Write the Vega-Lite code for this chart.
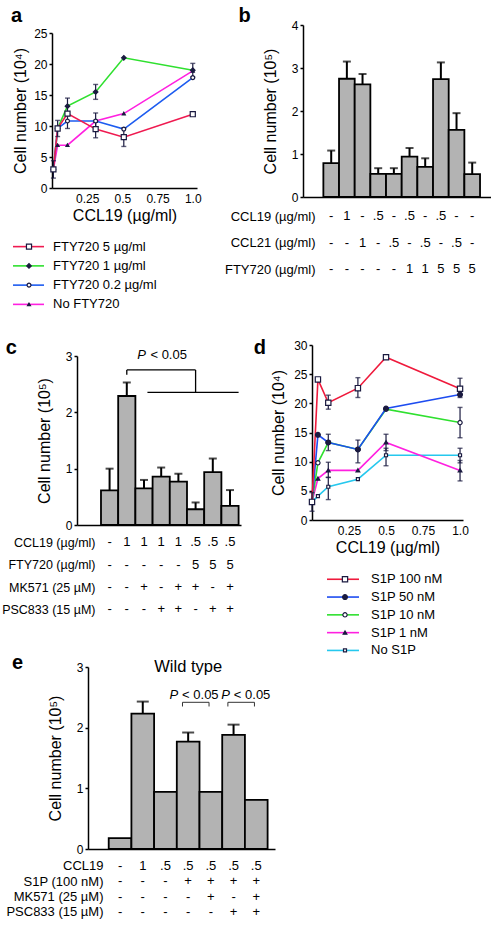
{
"$schema": "https://vega.github.io/schema/vega-lite/v6.json",
"padding": 0,
"background": "white",
"spacing": -5,
"resolve": {"scale": {"color": "independent", "shape": "independent", "fill": "independent", "size": "independent"}},
"config": {
  "view": {"stroke": null},
  "font": "Liberation Sans",
  "axis": {"domainColor": "black", "domainWidth": 1.5, "tickColor": "black", "tickWidth": 1.5, "tickSize": 3, "labelFontSize": 12, "labelColor": "black", "labelFont": "Liberation Sans", "labelPadding": 2, "labelOverlap": false, "titleFontSize": 16, "titleFontWeight": "normal", "titleColor": "black", "titleFont": "Liberation Sans", "grid": false},
  "title": {"fontSize": 20, "fontWeight": "bold", "color": "black", "font": "Liberation Sans", "anchor": "start"},
  "text": {"font": "Liberation Sans", "color": "black"}
},
"datasets": {
  "aLine": [
    {"series": "No FTY720", "ccl19": 0.01, "cells": 3.0}, {"series": "No FTY720", "ccl19": 0.04, "cells": 6.9}, {"series": "No FTY720", "ccl19": 0.11, "cells": 6.9}, {"series": "No FTY720", "ccl19": 0.31, "cells": 10.8}, {"series": "No FTY720", "ccl19": 0.51, "cells": 12.0}, {"series": "No FTY720", "ccl19": 1.0, "cells": 18.9},
    {"series": "FTY720 1 µg/ml", "ccl19": 0.01, "cells": 3.0}, {"series": "FTY720 1 µg/ml", "ccl19": 0.04, "cells": 9.6}, {"series": "FTY720 1 µg/ml", "ccl19": 0.11, "cells": 13.2}, {"series": "FTY720 1 µg/ml", "ccl19": 0.31, "cells": 15.5}, {"series": "FTY720 1 µg/ml", "ccl19": 0.51, "cells": 21.0}, {"series": "FTY720 1 µg/ml", "ccl19": 1.0, "cells": 19.0},
    {"series": "FTY720 0.2 µg/ml", "ccl19": 0.01, "cells": 3.0}, {"series": "FTY720 0.2 µg/ml", "ccl19": 0.04, "cells": 9.6}, {"series": "FTY720 0.2 µg/ml", "ccl19": 0.11, "cells": 10.8}, {"series": "FTY720 0.2 µg/ml", "ccl19": 0.31, "cells": 10.8}, {"series": "FTY720 0.2 µg/ml", "ccl19": 0.51, "cells": 9.5}, {"series": "FTY720 0.2 µg/ml", "ccl19": 1.0, "cells": 17.8},
    {"series": "FTY720 5 µg/ml", "ccl19": 0.01, "cells": 3.0}, {"series": "FTY720 5 µg/ml", "ccl19": 0.04, "cells": 9.6}, {"series": "FTY720 5 µg/ml", "ccl19": 0.11, "cells": 12.0}, {"series": "FTY720 5 µg/ml", "ccl19": 0.31, "cells": 9.5}, {"series": "FTY720 5 µg/ml", "ccl19": 0.51, "cells": 8.2}, {"series": "FTY720 5 µg/ml", "ccl19": 1.0, "cells": 11.9}
  ],
  "aErr": [
    {"series": "FTY720 5 µg/ml", "ccl19": 0.01, "lo": 1.6, "hi": 4.4},
    {"series": "FTY720 5 µg/ml", "ccl19": 0.04, "lo": 8.3, "hi": 10.9},
    {"series": "FTY720 1 µg/ml", "ccl19": 0.11, "lo": 11.9, "hi": 14.5},
    {"series": "FTY720 0.2 µg/ml", "ccl19": 0.11, "lo": 9.6, "hi": 12.0},
    {"series": "FTY720 1 µg/ml", "ccl19": 0.31, "lo": 14.3, "hi": 16.7},
    {"series": "FTY720 5 µg/ml", "ccl19": 0.31, "lo": 8.1, "hi": 10.9},
    {"series": "FTY720 0.2 µg/ml", "ccl19": 0.31, "lo": 9.5, "hi": 12.1},
    {"series": "FTY720 5 µg/ml", "ccl19": 0.51, "lo": 6.7, "hi": 9.7},
    {"series": "FTY720 1 µg/ml", "ccl19": 1.0, "lo": 17.9, "hi": 20.1}
  ],
  "aSer": [{"series": "FTY720 5 µg/ml"}, {"series": "FTY720 1 µg/ml"}, {"series": "FTY720 0.2 µg/ml"}, {"series": "No FTY720"}],
  "bBar": [
    {"bar": "1", "cells": 0.79, "hi": 1.08}, {"bar": "2", "cells": 2.75, "hi": 3.15}, {"bar": "3", "cells": 2.62, "hi": 2.86}, {"bar": "4", "cells": 0.54, "hi": 0.67}, {"bar": "5", "cells": 0.54, "hi": 0.67},
    {"bar": "6", "cells": 0.94, "hi": 1.14}, {"bar": "7", "cells": 0.70, "hi": 0.90}, {"bar": "8", "cells": 2.74, "hi": 3.13}, {"bar": "9", "cells": 1.56, "hi": 1.95}, {"bar": "10", "cells": 0.53, "hi": 0.80}
  ],
  "bTab": [
    {"bar": "1", "row": "CCL19 (µg/ml)", "v": "-"}, {"bar": "2", "row": "CCL19 (µg/ml)", "v": "1"}, {"bar": "3", "row": "CCL19 (µg/ml)", "v": "-"}, {"bar": "4", "row": "CCL19 (µg/ml)", "v": ".5"}, {"bar": "5", "row": "CCL19 (µg/ml)", "v": "-"}, {"bar": "6", "row": "CCL19 (µg/ml)", "v": ".5"}, {"bar": "7", "row": "CCL19 (µg/ml)", "v": "-"}, {"bar": "8", "row": "CCL19 (µg/ml)", "v": ".5"}, {"bar": "9", "row": "CCL19 (µg/ml)", "v": "-"}, {"bar": "10", "row": "CCL19 (µg/ml)", "v": "-"},
    {"bar": "1", "row": "CCL21 (µg/ml)", "v": "-"}, {"bar": "2", "row": "CCL21 (µg/ml)", "v": "-"}, {"bar": "3", "row": "CCL21 (µg/ml)", "v": "1"}, {"bar": "4", "row": "CCL21 (µg/ml)", "v": "-"}, {"bar": "5", "row": "CCL21 (µg/ml)", "v": ".5"}, {"bar": "6", "row": "CCL21 (µg/ml)", "v": "-"}, {"bar": "7", "row": "CCL21 (µg/ml)", "v": ".5"}, {"bar": "8", "row": "CCL21 (µg/ml)", "v": "-"}, {"bar": "9", "row": "CCL21 (µg/ml)", "v": ".5"}, {"bar": "10", "row": "CCL21 (µg/ml)", "v": "-"},
    {"bar": "1", "row": "FTY720 (µg/ml)", "v": "-"}, {"bar": "2", "row": "FTY720 (µg/ml)", "v": "-"}, {"bar": "3", "row": "FTY720 (µg/ml)", "v": "-"}, {"bar": "4", "row": "FTY720 (µg/ml)", "v": "-"}, {"bar": "5", "row": "FTY720 (µg/ml)", "v": "-"}, {"bar": "6", "row": "FTY720 (µg/ml)", "v": "1"}, {"bar": "7", "row": "FTY720 (µg/ml)", "v": "1"}, {"bar": "8", "row": "FTY720 (µg/ml)", "v": "5"}, {"bar": "9", "row": "FTY720 (µg/ml)", "v": "5"}, {"bar": "10", "row": "FTY720 (µg/ml)", "v": "5"}
  ],
  "cBar": [
    {"bar": "1", "cells": 0.615, "hi": 1.0}, {"bar": "2", "cells": 2.29, "hi": 2.53}, {"bar": "3", "cells": 0.65, "hi": 0.8}, {"bar": "4", "cells": 0.86, "hi": 1.02},
    {"bar": "5", "cells": 0.77, "hi": 0.91}, {"bar": "6", "cells": 0.28, "hi": 0.4}, {"bar": "7", "cells": 0.94, "hi": 1.18}, {"bar": "8", "cells": 0.34, "hi": 0.62}
  ],
  "cTab": [
    {"bar": "1", "row": "CCL19 (µg/ml)", "v": "-"}, {"bar": "2", "row": "CCL19 (µg/ml)", "v": "1"}, {"bar": "3", "row": "CCL19 (µg/ml)", "v": "1"}, {"bar": "4", "row": "CCL19 (µg/ml)", "v": "1"}, {"bar": "5", "row": "CCL19 (µg/ml)", "v": "1"}, {"bar": "6", "row": "CCL19 (µg/ml)", "v": ".5"}, {"bar": "7", "row": "CCL19 (µg/ml)", "v": ".5"}, {"bar": "8", "row": "CCL19 (µg/ml)", "v": ".5"},
    {"bar": "1", "row": "FTY720 (µg/ml)", "v": "-"}, {"bar": "2", "row": "FTY720 (µg/ml)", "v": "-"}, {"bar": "3", "row": "FTY720 (µg/ml)", "v": "-"}, {"bar": "4", "row": "FTY720 (µg/ml)", "v": "-"}, {"bar": "5", "row": "FTY720 (µg/ml)", "v": "-"}, {"bar": "6", "row": "FTY720 (µg/ml)", "v": "5"}, {"bar": "7", "row": "FTY720 (µg/ml)", "v": "5"}, {"bar": "8", "row": "FTY720 (µg/ml)", "v": "5"},
    {"bar": "1", "row": "MK571 (25 µM)", "v": "-"}, {"bar": "2", "row": "MK571 (25 µM)", "v": "-"}, {"bar": "3", "row": "MK571 (25 µM)", "v": "+"}, {"bar": "4", "row": "MK571 (25 µM)", "v": "-"}, {"bar": "5", "row": "MK571 (25 µM)", "v": "+"}, {"bar": "6", "row": "MK571 (25 µM)", "v": "+"}, {"bar": "7", "row": "MK571 (25 µM)", "v": "-"}, {"bar": "8", "row": "MK571 (25 µM)", "v": "+"},
    {"bar": "1", "row": "PSC833 (15 µM)", "v": "-"}, {"bar": "2", "row": "PSC833 (15 µM)", "v": "-"}, {"bar": "3", "row": "PSC833 (15 µM)", "v": "-"}, {"bar": "4", "row": "PSC833 (15 µM)", "v": "+"}, {"bar": "5", "row": "PSC833 (15 µM)", "v": "+"}, {"bar": "6", "row": "PSC833 (15 µM)", "v": "-"}, {"bar": "7", "row": "PSC833 (15 µM)", "v": "+"}, {"bar": "8", "row": "PSC833 (15 µM)", "v": "+"}
  ],
  "dLine": [
    {"series": "No S1P", "ccl19": 0, "cells": 3.1}, {"series": "No S1P", "ccl19": 0.04, "cells": 4.1}, {"series": "No S1P", "ccl19": 0.11, "cells": 5.7}, {"series": "No S1P", "ccl19": 0.31, "cells": 7.0}, {"series": "No S1P", "ccl19": 0.5, "cells": 11.1}, {"series": "No S1P", "ccl19": 1.0, "cells": 11.1},
    {"series": "S1P 1 nM", "ccl19": 0, "cells": 3.1}, {"series": "S1P 1 nM", "ccl19": 0.04, "cells": 7.1}, {"series": "S1P 1 nM", "ccl19": 0.11, "cells": 8.5}, {"series": "S1P 1 nM", "ccl19": 0.31, "cells": 8.5}, {"series": "S1P 1 nM", "ccl19": 0.5, "cells": 13.3}, {"series": "S1P 1 nM", "ccl19": 1.0, "cells": 8.5},
    {"series": "S1P 10 nM", "ccl19": 0, "cells": 3.1}, {"series": "S1P 10 nM", "ccl19": 0.04, "cells": 9.8}, {"series": "S1P 10 nM", "ccl19": 0.11, "cells": 13.3}, {"series": "S1P 10 nM", "ccl19": 0.31, "cells": 12.1}, {"series": "S1P 10 nM", "ccl19": 0.5, "cells": 19.0}, {"series": "S1P 10 nM", "ccl19": 1.0, "cells": 16.7},
    {"series": "S1P 50 nM", "ccl19": 0, "cells": 3.1}, {"series": "S1P 50 nM", "ccl19": 0.04, "cells": 14.6}, {"series": "S1P 50 nM", "ccl19": 0.11, "cells": 13.3}, {"series": "S1P 50 nM", "ccl19": 0.31, "cells": 12.1}, {"series": "S1P 50 nM", "ccl19": 0.5, "cells": 19.1}, {"series": "S1P 50 nM", "ccl19": 1.0, "cells": 21.5},
    {"series": "S1P 100 nM", "ccl19": 0, "cells": 3.1}, {"series": "S1P 100 nM", "ccl19": 0.04, "cells": 24.1}, {"series": "S1P 100 nM", "ccl19": 0.11, "cells": 20.1}, {"series": "S1P 100 nM", "ccl19": 0.31, "cells": 22.6}, {"series": "S1P 100 nM", "ccl19": 0.5, "cells": 27.9}, {"series": "S1P 100 nM", "ccl19": 1.0, "cells": 22.5}
  ],
  "dErr": [
    {"series": "S1P 100 nM", "ccl19": 0, "lo": 1.5, "hi": 4.7},
    {"series": "S1P 100 nM", "ccl19": 0.11, "lo": 19.0, "hi": 21.4},
    {"series": "S1P 100 nM", "ccl19": 0.31, "lo": 21.0, "hi": 24.4},
    {"series": "S1P 100 nM", "ccl19": 1.0, "lo": 21.0, "hi": 24.3},
    {"series": "S1P 50 nM", "ccl19": 0.11, "lo": 11.9, "hi": 14.7},
    {"series": "S1P 50 nM", "ccl19": 0.31, "lo": 9.8, "hi": 13.7},
    {"series": "S1P 10 nM", "ccl19": 1.0, "lo": 14.1, "hi": 19.3},
    {"series": "S1P 1 nM", "ccl19": 0.11, "lo": 7.3, "hi": 9.9},
    {"series": "No S1P", "ccl19": 0.11, "lo": 3.5, "hi": 7.3},
    {"series": "S1P 1 nM", "ccl19": 0.5, "lo": 11.9, "hi": 14.7},
    {"series": "No S1P", "ccl19": 0.5, "lo": 9.3, "hi": 12.3},
    {"series": "No S1P", "ccl19": 1.0, "lo": 9.8, "hi": 12.3},
    {"series": "S1P 1 nM", "ccl19": 1.0, "lo": 6.7, "hi": 10.2}
  ],
  "dSer": [{"series": "S1P 100 nM"}, {"series": "S1P 50 nM"}, {"series": "S1P 10 nM"}, {"series": "S1P 1 nM"}, {"series": "No S1P"}],
  "eBar": [
    {"bar": "1", "cells": 0.18}, {"bar": "2", "cells": 2.23}, {"bar": "3", "cells": 0.94}, {"bar": "4", "cells": 1.77}, {"bar": "5", "cells": 0.94}, {"bar": "6", "cells": 1.88}, {"bar": "7", "cells": 0.81}
  ],
  "eErr": [
    {"bar": "2", "cells": 2.23, "hi": 2.43}, {"bar": "4", "cells": 1.77, "hi": 1.92}, {"bar": "6", "cells": 1.88, "hi": 2.05}
  ],
  "eCmp": [{"a": "4", "b": "5", "p": "P", "q": "< 0.05"}, {"a": "6", "b": "7", "p": "P", "q": "< 0.05"}],
  "eTab": [
    {"bar": "1", "row": "CCL19", "v": "-"}, {"bar": "2", "row": "CCL19", "v": "1"}, {"bar": "3", "row": "CCL19", "v": ".5"}, {"bar": "4", "row": "CCL19", "v": ".5"}, {"bar": "5", "row": "CCL19", "v": ".5"}, {"bar": "6", "row": "CCL19", "v": ".5"}, {"bar": "7", "row": "CCL19", "v": ".5"},
    {"bar": "1", "row": "S1P (100 nM)", "v": "-"}, {"bar": "2", "row": "S1P (100 nM)", "v": "-"}, {"bar": "3", "row": "S1P (100 nM)", "v": "-"}, {"bar": "4", "row": "S1P (100 nM)", "v": "+"}, {"bar": "5", "row": "S1P (100 nM)", "v": "+"}, {"bar": "6", "row": "S1P (100 nM)", "v": "+"}, {"bar": "7", "row": "S1P (100 nM)", "v": "+"},
    {"bar": "1", "row": "MK571 (25 µM)", "v": "-"}, {"bar": "2", "row": "MK571 (25 µM)", "v": "-"}, {"bar": "3", "row": "MK571 (25 µM)", "v": "-"}, {"bar": "4", "row": "MK571 (25 µM)", "v": "-"}, {"bar": "5", "row": "MK571 (25 µM)", "v": "+"}, {"bar": "6", "row": "MK571 (25 µM)", "v": "-"}, {"bar": "7", "row": "MK571 (25 µM)", "v": "+"},
    {"bar": "1", "row": "PSC833 (15 µM)", "v": "-"}, {"bar": "2", "row": "PSC833 (15 µM)", "v": "-"}, {"bar": "3", "row": "PSC833 (15 µM)", "v": "-"}, {"bar": "4", "row": "PSC833 (15 µM)", "v": "-"}, {"bar": "5", "row": "PSC833 (15 µM)", "v": "-"}, {"bar": "6", "row": "PSC833 (15 µM)", "v": "+"}, {"bar": "7", "row": "PSC833 (15 µM)", "v": "+"}
  ]
},
"vconcat": [
  {
    "concat": [
      {"data": {"values": []}, "mark": "point", "width": 11, "height": 5},
      {"data": {"values": []}, "mark": "point", "width": 1, "height": 5},
      {"data": {"values": []}, "mark": "point", "width": 1, "height": 5},
      {"data": {"values": []}, "mark": "point", "width": 11, "height": 1},
      {
        "title": {"text": "a", "offset": 1.5},
        "concat": [
          {"data": {"values": []}, "mark": "point", "width": 1, "height": 1},
          {
            "width": 145, "height": 155,
            "layer": [
              {"data": {"name": "aLine"}, "mark": {"type": "line", "strokeWidth": 1.6},
               "encoding": {
                 "x": {"field": "ccl19", "type": "quantitative", "scale": {"domain": [0, 1.03], "nice": false, "zero": false},
                       "axis": {"values": [0.25, 0.5, 0.75, 1], "format": ".2~f", "labelExpr": "datum.value == 1 ? '1.0' : datum.label", "ticks": false, "labelPadding": 5, "labelFlush": false, "title": "CCL19 (µg/ml)", "titlePadding": 3}},
                 "y": {"field": "cells", "type": "quantitative", "scale": {"domain": [0, 25], "nice": false}, "axis": {"values": [0, 5, 10, 15, 20, 25], "format": "d", "labelOverlap": false, "title": "Cell number (10⁴)", "titlePadding": 5.5}},
                 "color": {"field": "series", "type": "nominal", "scale": {"domain": ["FTY720 5 µg/ml", "FTY720 1 µg/ml", "FTY720 0.2 µg/ml", "No FTY720"], "range": ["#ef1a50", "#2fe02f", "#1d5cf0", "#ff20e0"]}, "legend": null}
               }},
              {"data": {"name": "aErr"}, "mark": {"type": "rule", "color": "#1a1a40", "strokeWidth": 1.2},
               "encoding": {"x": {"field": "ccl19", "type": "quantitative"}, "y": {"field": "lo", "type": "quantitative", "axis": {"values": [0, 5, 10, 15, 20, 25], "format": "d", "labelOverlap": false, "title": "Cell number (10⁴)", "titlePadding": 5.5}}, "y2": {"field": "hi"}}},
              {"data": {"name": "aErr"}, "mark": {"type": "tick", "orient": "horizontal", "size": 5, "thickness": 1.4, "color": "#1a1a40"},
               "encoding": {"x": {"field": "ccl19", "type": "quantitative"}, "y": {"field": "hi", "type": "quantitative", "axis": {"values": [0, 5, 10, 15, 20, 25], "format": "d", "labelOverlap": false, "title": "Cell number (10⁴)", "titlePadding": 5.5}}}},
              {"data": {"name": "aErr"}, "mark": {"type": "tick", "orient": "horizontal", "size": 5, "thickness": 1.4, "color": "#1a1a40"},
               "encoding": {"x": {"field": "ccl19", "type": "quantitative"}, "y": {"field": "lo", "type": "quantitative", "axis": {"values": [0, 5, 10, 15, 20, 25], "format": "d", "labelOverlap": false, "title": "Cell number (10⁴)", "titlePadding": 5.5}}}},
              {"data": {"name": "aLine"}, "mark": {"type": "point", "filled": true, "stroke": "#1a1a40", "strokeWidth": 1.2, "opacity": 1},
               "encoding": {
                 "x": {"field": "ccl19", "type": "quantitative"},
                 "y": {"field": "cells", "type": "quantitative", "axis": {"values": [0, 5, 10, 15, 20, 25], "format": "d", "labelOverlap": false, "title": "Cell number (10⁴)", "titlePadding": 5.5}},
                 "shape": {"field": "series", "type": "nominal", "scale": {"domain": ["FTY720 5 µg/ml", "FTY720 1 µg/ml", "FTY720 0.2 µg/ml", "No FTY720"], "range": ["square", "diamond", "circle", "triangle-up"]}, "legend": null},
                 "fill": {"field": "series", "type": "nominal", "scale": {"domain": ["FTY720 5 µg/ml", "FTY720 1 µg/ml", "FTY720 0.2 µg/ml", "No FTY720"], "range": ["white", "#1a1a40", "white", "#1a1a40"]}, "legend": null},
                 "size": {"field": "series", "type": "ordinal", "scale": {"domain": ["FTY720 5 µg/ml", "FTY720 1 µg/ml", "FTY720 0.2 µg/ml", "No FTY720"], "range": [26, 9, 24, 16]}, "legend": null}
               }}
            ]
          },
          {"data": {"values": []}, "mark": "point", "width": 1, "height": 1},
          {
            "width": 150, "height": 77,
            "data": {"name": "aSer"},
            "encoding": {"y": {"field": "series", "type": "nominal", "scale": {"type": "point", "domain": ["FTY720 5 µg/ml", "FTY720 1 µg/ml", "FTY720 0.2 µg/ml", "No FTY720"], "padding": 0.5}, "axis": null}},
            "layer": [
              {"mark": {"type": "rule", "strokeWidth": 1.6},
               "encoding": {"x": {"datum": 0, "type": "quantitative", "scale": {"domain": [0, 150], "nice": false, "zero": false}, "axis": null}, "x2": {"datum": 31},
                 "color": {"field": "series", "type": "nominal", "scale": {"domain": ["FTY720 5 µg/ml", "FTY720 1 µg/ml", "FTY720 0.2 µg/ml", "No FTY720"], "range": ["#ef1a50", "#2fe02f", "#1d5cf0", "#ff20e0"]}, "legend": null}}},
              {"mark": {"type": "point", "filled": true, "stroke": "#1a1a40", "strokeWidth": 1.2, "opacity": 1},
               "encoding": {"x": {"datum": 16, "type": "quantitative"},
                 "shape": {"field": "series", "type": "nominal", "scale": {"domain": ["FTY720 5 µg/ml", "FTY720 1 µg/ml", "FTY720 0.2 µg/ml", "No FTY720"], "range": ["square", "diamond", "circle", "triangle-up"]}, "legend": null},
                 "fill": {"field": "series", "type": "nominal", "scale": {"domain": ["FTY720 5 µg/ml", "FTY720 1 µg/ml", "FTY720 0.2 µg/ml", "No FTY720"], "range": ["white", "#1a1a40", "white", "#1a1a40"]}, "legend": null},
                 "size": {"field": "series", "type": "ordinal", "scale": {"domain": ["FTY720 5 µg/ml", "FTY720 1 µg/ml", "FTY720 0.2 µg/ml", "No FTY720"], "range": [26, 9, 24, 16]}, "legend": null}}},
              {"mark": {"type": "text", "align": "left", "baseline": "middle", "fontSize": 13},
               "encoding": {"x": {"datum": 40, "type": "quantitative"}, "text": {"field": "series"}}}
            ]
          }
        ],
        "columns": 2, "align": "none", "spacing": {"row": 14, "column": 0}
      },
      {
        "concat": [
          {"data": {"values": []}, "mark": "point", "width": 22, "height": 1},
          {
            "title": {"text": "b", "offset": -6.5, "dx": 14},
            "vconcat": [
              {
                "width": 188, "height": 172,
                "layer": [
                  {"data": {"name": "bBar"}, "mark": {"type": "bar", "fill": "#b3b3b3", "stroke": "black", "strokeWidth": 1.8},
                   "encoding": {
                     "x": {"field": "bar", "type": "ordinal", "scale": {"type": "band", "domain": ["1", "2", "3", "4", "5", "6", "7", "8", "9", "10"], "paddingInner": 0, "paddingOuter": 1.06, "align": 0.65}, "axis": {"labels": false, "ticks": false, "title": null}},
                     "y": {"field": "cells", "type": "quantitative", "scale": {"domain": [0, 4], "nice": false}, "axis": {"values": [0, 1, 2, 3, 4], "format": "d", "title": "Cell number (10⁵)", "titlePadding": 13}}
                   }},
                  {"data": {"name": "bBar"}, "mark": {"type": "rule", "color": "black", "strokeWidth": 2},
                   "encoding": {"x": {"field": "bar", "type": "ordinal"}, "y": {"field": "cells", "type": "quantitative"}, "y2": {"field": "hi"}}},
                  {"data": {"name": "bBar"}, "mark": {"type": "tick", "orient": "horizontal", "size": 8, "thickness": 2, "color": "black"},
                   "encoding": {"x": {"field": "bar", "type": "ordinal"}, "y": {"field": "hi", "type": "quantitative"}}}
                ]
              },
              {
                "width": 188, "height": 79.5,
                "data": {"name": "bTab"},
                "mark": {"type": "text", "fontSize": 13, "baseline": "middle", "align": "center"},
                "encoding": {
                  "x": {"field": "bar", "type": "ordinal", "bandPosition": 0.5, "scale": {"type": "band", "domain": ["1", "2", "3", "4", "5", "6", "7", "8", "9", "10"], "paddingInner": 0, "paddingOuter": 1.06, "align": 0.65}, "axis": null},
                  "y": {"field": "row", "type": "nominal", "scale": {"type": "point", "domain": ["CCL19 (µg/ml)", "CCL21 (µg/ml)", "FTY720 (µg/ml)"], "padding": 0.5}, "axis": {"title": null, "domain": false, "ticks": false, "tickSize": 0, "labelPadding": -12, "labelFontSize": 13, "labelLimit": 300}},
                  "text": {"field": "v"}
                }
              }
            ],
            "spacing": -6
          }
        ],
        "columns": 2, "align": "none", "spacing": 0
      }
    ],
    "columns": 3, "align": "none", "spacing": 0
  },
  {
    "concat": [
      {"data": {"values": []}, "mark": "point", "width": 1, "height": 24},
      {"data": {"values": []}, "mark": "point", "width": 1, "height": 24},
      {"data": {"values": []}, "mark": "point", "width": 1, "height": 24},
      {"data": {"values": []}, "mark": "point", "width": 1, "height": 1},
      {
        "title": {"text": "c", "offset": -9.4, "dx": 4},
        "vconcat": [
          {
            "width": 164, "height": 169,
            "layer": [
              {"data": {"name": "cBar"}, "mark": {"type": "bar", "fill": "#b3b3b3", "stroke": "black", "strokeWidth": 1.8},
               "encoding": {
                 "x": {"field": "bar", "type": "ordinal", "scale": {"type": "band", "domain": ["1", "2", "3", "4", "5", "6", "7", "8"], "paddingInner": 0, "paddingOuter": 0.767, "align": 0.909}, "axis": {"labels": false, "ticks": false, "title": null}},
                 "y": {"field": "cells", "type": "quantitative", "scale": {"domain": [0, 3], "nice": false}, "axis": {"values": [0, 1, 2, 3], "format": "d", "title": "Cell number (10⁵)", "titlePadding": 13}}
               }},
              {"data": {"name": "cBar"}, "mark": {"type": "rule", "color": "black", "strokeWidth": 2},
               "encoding": {"x": {"field": "bar", "type": "ordinal"}, "y": {"field": "cells", "type": "quantitative"}, "y2": {"field": "hi"}}},
              {"data": {"name": "cBar"}, "mark": {"type": "tick", "orient": "horizontal", "size": 8, "thickness": 2, "color": "black"},
               "encoding": {"x": {"field": "bar", "type": "ordinal"}, "y": {"field": "hi", "type": "quantitative"}}},
              {"data": {"values": [{"a": "2", "b": "6"}]}, "mark": {"type": "rule", "color": "black", "strokeWidth": 1.3},
               "encoding": {"x": {"field": "a", "type": "ordinal", "bandPosition": 0.5}, "x2": {"field": "b", "bandPosition": 0.5}, "y": {"datum": 2.752, "type": "quantitative"}}},
              {"data": {"values": [{"a": "2", "b": "6"}]}, "mark": {"type": "rule", "color": "black", "strokeWidth": 1.3},
               "encoding": {"x": {"field": "a", "type": "ordinal", "bandPosition": 0.5}, "y": {"datum": 2.669, "type": "quantitative"}, "y2": {"datum": 2.752}}},
              {"data": {"values": [{"a": "2", "b": "6"}]}, "mark": {"type": "rule", "color": "black", "strokeWidth": 1.3},
               "encoding": {"x": {"field": "b", "type": "ordinal", "bandPosition": 0.5}, "y": {"datum": 2.354, "type": "quantitative"}, "y2": {"datum": 2.752}}},
              {"data": {"values": [{"a": "3", "b": "8"}]}, "mark": {"type": "rule", "color": "black", "strokeWidth": 1.3},
               "encoding": {"x": {"field": "a", "type": "ordinal", "bandPosition": 0.7}, "x2": {"field": "b", "bandPosition": 1}, "y": {"datum": 2.354, "type": "quantitative"}}},
              {"data": {"values": [{"at": "3", "p": "P", "q": "< 0.05"}]}, "mark": {"type": "text", "fontSize": 13, "fontStyle": "italic", "align": "right", "baseline": "middle", "dx": -1.5},
               "encoding": {"x": {"field": "at", "type": "ordinal", "bandPosition": 0.7}, "y": {"datum": 3.02, "type": "quantitative"}, "text": {"field": "p"}}},
              {"data": {"values": [{"at": "3", "p": "P", "q": "< 0.05"}]}, "mark": {"type": "text", "fontSize": 13, "align": "left", "baseline": "middle", "dx": 3},
               "encoding": {"x": {"field": "at", "type": "ordinal", "bandPosition": 0.7}, "y": {"datum": 3.02, "type": "quantitative"}, "text": {"field": "q"}}}
            ]
          },
          {
            "width": 164, "height": 89.6,
            "data": {"name": "cTab"},
            "mark": {"type": "text", "fontSize": 13, "baseline": "middle", "align": "center"},
            "encoding": {
              "x": {"field": "bar", "type": "ordinal", "bandPosition": 0.5, "scale": {"type": "band", "domain": ["1", "2", "3", "4", "5", "6", "7", "8"], "paddingInner": 0, "paddingOuter": 0.767, "align": 0.909}, "axis": null},
              "y": {"field": "row", "type": "nominal", "scale": {"type": "point", "domain": ["CCL19 (µg/ml)", "FTY720 (µg/ml)", "MK571 (25 µM)", "PSC833 (15 µM)"], "padding": 0.5}, "axis": {"title": null, "domain": false, "ticks": false, "tickSize": 0, "labelPadding": -18, "labelFontSize": 12.5, "labelLimit": 300}},
              "text": {"field": "v"}
            }
          }
        ],
        "spacing": -1.8
      },
      {
        "concat": [
          {"data": {"values": []}, "mark": "point", "width": 12, "height": 1},
          {
            "title": {"text": "d", "offset": -19, "dx": -17},
            "vconcat": [
              {
                "width": 151, "height": 175,
                "layer": [
                  {"data": {"name": "dLine"}, "mark": {"type": "line", "strokeWidth": 1.6},
                   "encoding": {
                     "x": {"field": "ccl19", "type": "quantitative", "scale": {"domain": [0, 1.02], "nice": false, "zero": false},
                           "axis": {"values": [0.25, 0.5, 0.75, 1], "format": ".2~f", "labelExpr": "datum.value == 1 ? '1.0' : datum.label", "ticks": false, "labelPadding": 5, "labelFlush": false, "title": "CCL19 (µg/ml)", "titlePadding": 3}},
                     "y": {"field": "cells", "type": "quantitative", "scale": {"domain": [0, 30], "nice": false}, "axis": {"values": [0, 5, 10, 15, 20, 25, 30], "format": "d", "labelOverlap": false, "title": "Cell number (10⁴)", "titlePadding": 7}},
                     "color": {"field": "series", "type": "nominal", "scale": {"domain": ["S1P 100 nM", "S1P 50 nM", "S1P 10 nM", "S1P 1 nM", "No S1P"], "range": ["#ef1a3c", "#1d4cf0", "#2fe02f", "#ff20e0", "#25c8ee"]}, "legend": null}
                   }},
                  {"data": {"name": "dErr"}, "mark": {"type": "rule", "color": "#1a1a40", "strokeWidth": 1.2},
                   "encoding": {"x": {"field": "ccl19", "type": "quantitative"}, "y": {"field": "lo", "type": "quantitative", "axis": {"values": [0, 5, 10, 15, 20, 25, 30], "format": "d", "labelOverlap": false, "title": "Cell number (10⁴)", "titlePadding": 7}}, "y2": {"field": "hi"}}},
                  {"data": {"name": "dErr"}, "mark": {"type": "tick", "orient": "horizontal", "size": 5, "thickness": 1.4, "color": "#1a1a40"},
                   "encoding": {"x": {"field": "ccl19", "type": "quantitative"}, "y": {"field": "hi", "type": "quantitative", "axis": {"values": [0, 5, 10, 15, 20, 25, 30], "format": "d", "labelOverlap": false, "title": "Cell number (10⁴)", "titlePadding": 7}}}},
                  {"data": {"name": "dErr"}, "mark": {"type": "tick", "orient": "horizontal", "size": 5, "thickness": 1.4, "color": "#1a1a40"},
                   "encoding": {"x": {"field": "ccl19", "type": "quantitative"}, "y": {"field": "lo", "type": "quantitative", "axis": {"values": [0, 5, 10, 15, 20, 25, 30], "format": "d", "labelOverlap": false, "title": "Cell number (10⁴)", "titlePadding": 7}}}},
                  {"data": {"name": "dLine"}, "mark": {"type": "point", "filled": true, "stroke": "#1a1a40", "strokeWidth": 1.2, "opacity": 1},
                   "encoding": {
                     "x": {"field": "ccl19", "type": "quantitative"},
                     "y": {"field": "cells", "type": "quantitative", "axis": {"values": [0, 5, 10, 15, 20, 25, 30], "format": "d", "labelOverlap": false, "title": "Cell number (10⁴)", "titlePadding": 7}},
                     "shape": {"field": "series", "type": "nominal", "scale": {"domain": ["S1P 100 nM", "S1P 50 nM", "S1P 10 nM", "S1P 1 nM", "No S1P"], "range": ["square", "circle", "circle", "triangle-up", "square"]}, "legend": null},
                     "fill": {"field": "series", "type": "nominal", "scale": {"domain": ["S1P 100 nM", "S1P 50 nM", "S1P 10 nM", "S1P 1 nM", "No S1P"], "range": ["white", "#1a1a40", "white", "#1a1a40", "white"]}, "legend": null},
                     "size": {"field": "series", "type": "ordinal", "scale": {"domain": ["S1P 100 nM", "S1P 50 nM", "S1P 10 nM", "S1P 1 nM", "No S1P"], "range": [28, 9, 22, 16, 26]}, "legend": null}
                   }}
                ]
              },
              {
                "width": 151, "height": 78.3,
                "data": {"name": "dSer"},
                "encoding": {"y": {"field": "series", "type": "nominal", "scale": {"type": "point", "domain": ["S1P 100 nM", "S1P 50 nM", "S1P 10 nM", "S1P 1 nM", "No S1P"], "padding": 0.2}, "axis": null}},
                "layer": [
                  {"mark": {"type": "rule", "strokeWidth": 1.6},
                   "encoding": {"x": {"datum": 15, "type": "quantitative", "scale": {"domain": [0, 151], "nice": false, "zero": false}, "axis": null}, "x2": {"datum": 47},
                     "color": {"field": "series", "type": "nominal", "scale": {"domain": ["S1P 100 nM", "S1P 50 nM", "S1P 10 nM", "S1P 1 nM", "No S1P"], "range": ["#ef1a3c", "#1d4cf0", "#2fe02f", "#ff20e0", "#25c8ee"]}, "legend": null}}},
                  {"mark": {"type": "point", "filled": true, "stroke": "#1a1a40", "strokeWidth": 1.2, "opacity": 1},
                   "encoding": {"x": {"datum": 33, "type": "quantitative"},
                     "shape": {"field": "series", "type": "nominal", "scale": {"domain": ["S1P 100 nM", "S1P 50 nM", "S1P 10 nM", "S1P 1 nM", "No S1P"], "range": ["square", "circle", "circle", "triangle-up", "square"]}, "legend": null},
                     "fill": {"field": "series", "type": "nominal", "scale": {"domain": ["S1P 100 nM", "S1P 50 nM", "S1P 10 nM", "S1P 1 nM", "No S1P"], "range": ["white", "#1a1a40", "white", "#1a1a40", "white"]}, "legend": null},
                     "size": {"field": "series", "type": "ordinal", "scale": {"domain": ["S1P 100 nM", "S1P 50 nM", "S1P 10 nM", "S1P 1 nM", "No S1P"], "range": [28, 9, 22, 16, 26]}, "legend": null}}},
                  {"mark": {"type": "text", "align": "left", "baseline": "middle", "fontSize": 13},
                   "encoding": {"x": {"datum": 59, "type": "quantitative"}, "text": {"field": "series"}}}
                ]
              }
            ],
            "spacing": 17.7
          }
        ],
        "columns": 2, "align": "none", "spacing": 0
      }
    ],
    "columns": 3, "align": "none", "spacing": 0
  },
  {
    "concat": [
      {"data": {"values": []}, "mark": "point", "width": 5, "height": 1},
      {
        "title": {"text": "e", "offset": -14.25, "dx": 6},
        "vconcat": [
          {
            "width": 187, "height": 182,
            "layer": [
              {"data": {"name": "eBar"}, "mark": {"type": "bar", "fill": "#b3b3b3", "stroke": "black", "strokeWidth": 1.8},
               "encoding": {
                 "x": {"field": "bar", "type": "ordinal", "scale": {"type": "band", "domain": ["1", "2", "3", "4", "5", "6", "7"], "paddingInner": 0, "paddingOuter": 0.619, "align": 0.737}, "axis": {"labels": false, "ticks": false, "title": null}},
                 "y": {"field": "cells", "type": "quantitative", "scale": {"domain": [0, 3], "nice": false}, "axis": {"values": [0, 0.5, 1, 1.5, 2, 2.5, 3], "labelExpr": "datum.value % 1 == 0 ? format(datum.value, 'd') : ''", "title": "Cell number (10⁵)", "titlePadding": 13}}
               }},
              {"data": {"name": "eErr"}, "mark": {"type": "rule", "color": "black", "strokeWidth": 2},
               "encoding": {"x": {"field": "bar", "type": "ordinal"}, "y": {"field": "cells", "type": "quantitative"}, "y2": {"field": "hi"}}},
              {"data": {"name": "eErr"}, "mark": {"type": "tick", "orient": "horizontal", "size": 12, "thickness": 2, "color": "black"},
               "encoding": {"x": {"field": "bar", "type": "ordinal"}, "y": {"field": "hi", "type": "quantitative"}}},
              {"data": {"values": [{"t": "Wild type", "at": "4"}]}, "mark": {"type": "text", "fontSize": 16.5, "align": "center", "baseline": "middle"},
               "encoding": {"x": {"field": "at", "type": "ordinal", "bandPosition": 0.5}, "y": {"datum": 3, "type": "quantitative"}, "text": {"field": "t"}}},
              {"data": {"name": "eCmp"}, "mark": {"type": "rule", "color": "#333333", "strokeWidth": 1},
               "encoding": {"x": {"field": "a", "type": "ordinal", "bandPosition": 0.25}, "x2": {"field": "b", "bandPosition": 0.42}, "y": {"datum": 2.418, "type": "quantitative"}}},
              {"data": {"name": "eCmp"}, "mark": {"type": "rule", "color": "#333333", "strokeWidth": 1},
               "encoding": {"x": {"field": "a", "type": "ordinal", "bandPosition": 0.25}, "y": {"datum": 2.349, "type": "quantitative"}, "y2": {"datum": 2.418}}},
              {"data": {"name": "eCmp"}, "mark": {"type": "rule", "color": "#333333", "strokeWidth": 1},
               "encoding": {"x": {"field": "b", "type": "ordinal", "bandPosition": 0.42}, "y": {"datum": 2.349, "type": "quantitative"}, "y2": {"datum": 2.418}}},
              {"data": {"name": "eCmp"}, "transform": [{"filter": "datum.a == '4'"}], "mark": {"type": "text", "fontSize": 13, "fontStyle": "italic", "align": "right", "baseline": "middle", "dx": -1},
               "encoding": {"x": {"field": "a", "type": "ordinal", "bandPosition": 0.1}, "y": {"datum": 2.538, "type": "quantitative"}, "text": {"field": "p"}}},
              {"data": {"name": "eCmp"}, "transform": [{"filter": "datum.a == '4'"}], "mark": {"type": "text", "fontSize": 13, "align": "left", "baseline": "middle", "dx": 3},
               "encoding": {"x": {"field": "a", "type": "ordinal", "bandPosition": 0.1}, "y": {"datum": 2.538, "type": "quantitative"}, "text": {"field": "q"}}},
              {"data": {"name": "eCmp"}, "transform": [{"filter": "datum.a == '6'"}], "mark": {"type": "text", "fontSize": 13, "fontStyle": "italic", "align": "right", "baseline": "middle", "dx": -1},
               "encoding": {"x": {"field": "a", "type": "ordinal", "bandPosition": 0.38}, "y": {"datum": 2.538, "type": "quantitative"}, "text": {"field": "p"}}},
              {"data": {"name": "eCmp"}, "transform": [{"filter": "datum.a == '6'"}], "mark": {"type": "text", "fontSize": 13, "align": "left", "baseline": "middle", "dx": 3},
               "encoding": {"x": {"field": "a", "type": "ordinal", "bandPosition": 0.38}, "y": {"datum": 2.538, "type": "quantitative"}, "text": {"field": "q"}}}
            ]
          },
          {
            "width": 187, "height": 61.6,
            "data": {"name": "eTab"},
            "mark": {"type": "text", "fontSize": 13, "baseline": "middle", "align": "center"},
            "encoding": {
              "x": {"field": "bar", "type": "ordinal", "bandPosition": 0.5, "scale": {"type": "band", "domain": ["1", "2", "3", "4", "5", "6", "7"], "paddingInner": 0, "paddingOuter": 0.619, "align": 0.737}, "axis": null},
              "y": {"field": "row", "type": "nominal", "scale": {"type": "point", "domain": ["CCL19", "S1P (100 nM)", "MK571 (25 µM)", "PSC833 (15 µM)"], "padding": 0.5}, "axis": {"title": null, "domain": false, "ticks": false, "tickSize": 0, "labelPadding": -15, "labelFontSize": 13, "labelLimit": 300}},
              "text": {"field": "v"}
            }
          }
        ],
        "spacing": 3
      }
    ],
    "columns": 2, "align": "none", "spacing": 0
  }
]
}
